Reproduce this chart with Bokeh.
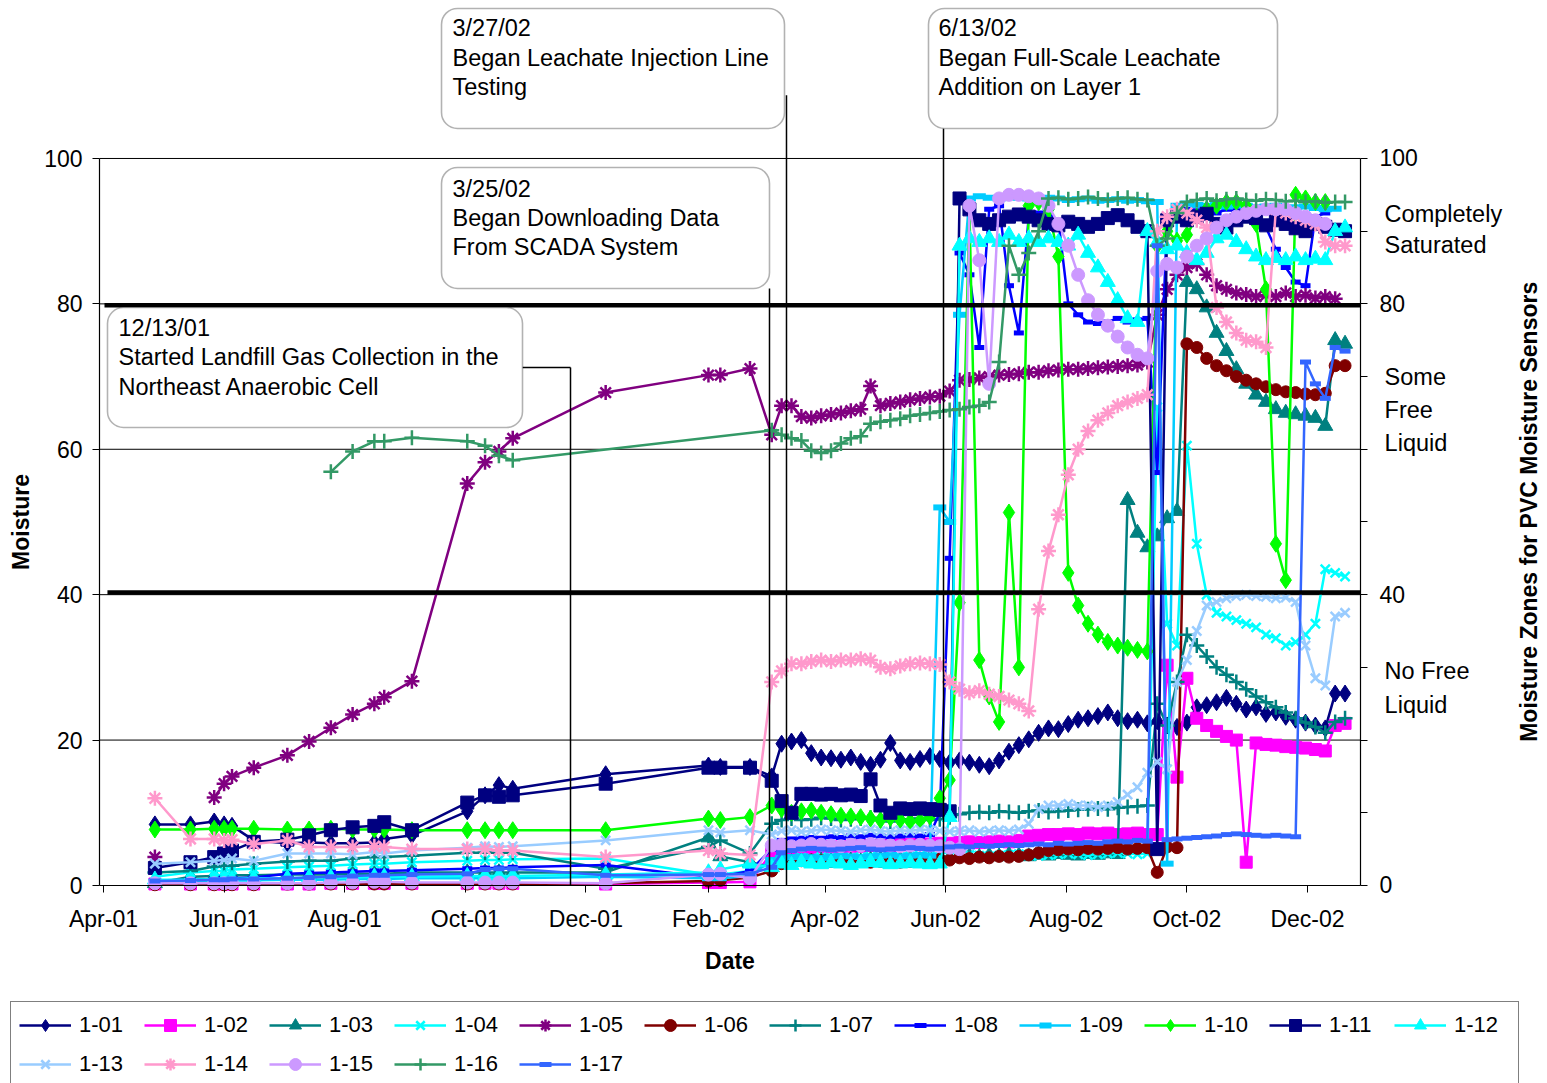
import pandas as pd
from math import pi
from bokeh.plotting import figure
from bokeh.models import (Range1d, FixedTicker, LinearAxis, DatetimeTickFormatter,
                          Legend, LegendItem, Label, BoxAnnotation)
from bokeh.embed import file_html
from bokeh.resources import INLINE

FONT = "Liberation Sans"
NAN = float("nan")
DAY_MS = 86400000.0
ORIGIN = pd.Timestamp("2001-04-01")


def ms(ts):
    return pd.Timestamp(ts).value / 1e6


def day(n):
    return ms(ORIGIN) + n * DAY_MS


# ---------------------------------------------------------------- data
# Manual readings taken before the SCADA download began
spot_dates = ["2001-04-27", "2001-05-15", "2001-05-27", "2001-06-01", "2001-06-05",
              "2001-06-16", "2001-07-03", "2001-07-14", "2001-07-25", "2001-08-05",
              "2001-08-16", "2001-08-21", "2001-09-04", "2001-10-02", "2001-10-11",
              "2001-10-18", "2001-10-25", "2001-12-11", "2002-02-01", "2002-02-07",
              "2002-02-22"]
# SCADA readings: one value every 5 days starting 2002-03-05
scada_start = "2002-03-05"
scada_step_days = 5

s101_spot = [8.4, 8.4, 8.8, 8.4, 8.2, 6.2, 5.8, 5.9, 5.8, 5.8, 5.9, 6.4, 6.9, 10.2, 12.4, 13.8, 13.3, 15.3, 16.5, 16.3, 16.3]
s101_scada = [15.0, 19.5, 19.8, 20.0, 18.2, 17.6, 17.5, 17.3, 17.6, 17.0, 16.6, 17.3, 19.6, 17.2, 17.0, 17.4, 17.8, 17.4, 16.9, 17.2,
              16.9, 16.6, 16.4, 17.2, 18.4, 19.3, 20.1, 21.0, 21.6, 21.5, 22.2, 22.8, 23.0, 23.3, 23.8, 23.0, 22.6, 22.8, 22.3, 22.6,
              22.0, 21.8, 22.4, 24.5, 24.8, 25.2, 25.8, 25.0, 24.2, 24.5, 23.6, 23.8, 23.2, 22.8, 22.4, 22.0, 21.6, 26.4, 26.4]

s102_spot = [0.2, 0.2, 0.2, 0.2, 0.2, 0.2, 0.2, 0.2, 0.3, 0.3, 0.3, 0.3, 0.3, 0.3, 0.3, 0.3, 0.3, 0.2, 0.4, 0.4, 0.5]
s102_scada = [4.5, 5.0, 5.0, 5.2, 5.2, 5.3, 5.3, 5.2, 5.4, 5.4, 5.5, 5.5, 5.4, 5.6, 5.6, 5.7, 5.7, 5.8, 5.8, 5.9,
              6.0, 5.9, 6.0, 6.1, 6.0, 6.2, 6.8, 6.9, 7.0, 7.0, 7.1, 7.0, 7.2, 7.1, 7.2, 7.0, 7.1, 7.2, 7.0, 7.0,
              30.3, 14.9, 28.5, 23.0, 22.0, 21.2, 20.5, 20.0, 3.2, 19.6, 19.4, 19.3, 19.1, 19.0, 18.9, 18.7, 18.5, 22.0, 22.3]

s103_spot = [0.3, 1.2, 1.3, 1.3, 1.4, 1.4, 1.5, 1.5, 1.5, 1.6, 1.6, 1.6, 1.8, 1.8, 1.8, 1.8, 1.8, 1.8, 6.6, 4.0, 3.2]
s103_scada = [2.5, 3.0, 3.2, 3.3, 3.2, 3.4, 3.3, 3.5, 3.4, 3.3, 3.5, 3.6, 3.4, 3.5, 3.6, 3.5, 3.7, 3.6, 3.8, 3.9,
              4.0, 3.9, 4.1, 4.0, 4.2, 4.1, 4.0, 4.2, 4.1, 4.3, 4.2, 4.1, 4.3, 4.2, 4.4, 4.3, 53.0, 48.5, 46.5, 48.0,
              50.5, 51.5, 83.0, 82.0, 79.5, 76.0, 73.5, 71.0, 69.0, 67.5, 66.5, 65.5, 65.0, 64.8, 64.6, 64.3, 63.2, 75.0, 74.5]

s104_spot = [1.2, 1.8, 2.0, 2.0, 2.2, 2.3, 2.5, 2.6, 2.7, 2.9, 3.0, 3.0, 3.2, 3.4, 3.5, 3.5, 3.6, 3.7, 1.5, 1.5, 2.0]
s104_scada = [3.0, 3.4, 3.6, 3.8, 3.7, 3.9, 3.8, 3.7, 3.8, 3.9, 4.0, 3.9, 3.8, 3.9, 4.0, 4.1, 4.0, 3.9, 4.0, 4.1,
              4.2, 4.1, 4.0, 4.1, 4.2, 4.3, 4.2, 4.1, 4.2, 4.3, 4.4, 4.3, 4.2, 4.3, 4.4, 4.5, 4.4, 4.3, 4.4, 65.8,
              36.0, 33.0, 60.5, 47.0, 40.0, 37.5, 37.0, 36.5, 36.0, 35.5, 34.5, 34.0, 33.0, 33.5, 34.5, 36.0, 43.5, 43.0, 42.5]

s105_spot = [3.9, NAN, 12.1, 14.0, 15.0, 16.2, 17.9, 19.8, 21.7, 23.5, 25.0, 25.9, 28.1, 55.3, 58.2, 59.7, 61.5, 67.8, 70.2, 70.2, 71.1]
s105_scada = [62.0, 66.0, 66.0, 64.5, 64.3, 64.6, 64.8, 65.0, 65.3, 65.5, 68.7, 66.0, 66.3, 66.5, 66.8, 67.0, 67.2, 67.3, 68.0, 69.5,
              69.6, 69.8, 70.0, 70.2, 70.3, 70.4, 70.6, 70.6, 70.8, 70.9, 71.0, 71.0, 71.1, 71.2, 71.3, 71.4, 71.5, 71.6, 72.0, 78.5,
              82.0, 84.0, 85.0, 85.5, 84.0, 82.5, 82.0, 81.5, 81.3, 81.0, 81.2, 81.0, 81.5, 81.0, 81.2, 80.8, 81.0, 80.7]

s106_spot = [0.1, 0.1, 0.1, 0.1, 0.1, 0.1, 0.2, 0.2, 0.2, 0.2, 0.2, 0.2, 0.2, 0.2, 0.2, 0.2, 0.2, 0.3, 0.6, 0.7, 1.1]
s106_scada = [2.0, 3.0, 3.2, 3.4, 3.5, 3.4, 3.3, 3.4, 3.5, 3.3, 3.2, 3.3, 3.4, 3.2, 3.3, 3.5, 3.4, 3.6, 3.5, 3.8,
              3.7, 3.9, 3.8, 4.0, 3.9, 4.0, 4.2, 4.5, 4.8, 4.9, 5.0, 4.9, 5.1, 5.0, 5.1, 5.2, 5.0, 5.1, 5.2, 1.8,
              5.3, 5.2, 74.5, 74.0, 72.5, 71.5, 70.8, 70.0, 69.5, 69.0, 68.6, 68.2, 67.9, 67.8, 67.6, 67.5, 67.7, 71.5, 71.5]

s107_spot = [1.8, 2.0, 2.6, 2.7, 2.7, 3.0, 3.3, 3.4, 3.4, 3.7, 3.9, 3.9, 4.1, 4.5, 4.5, 4.5, 4.5, 2.3, 5.3, 6.2, 4.4]
s107_scada = [8.5, 9.0, 9.2, 9.0, 9.1, 9.3, 9.2, 9.0, 9.1, 9.2, 9.3, 9.0, 8.8, 9.0, 9.1, 9.2, 9.0, 9.1, 9.4, 9.8,
              10.0, 10.1, 10.0, 10.2, 10.1, 10.0, 10.2, 10.3, 10.1, 10.2, 10.3, 10.4, 10.5, 10.6, 10.5, 10.7, 10.8, 10.9, 11.0, 25.0,
              22.0, 28.0, 34.5, 33.0, 31.5, 30.0, 29.0, 28.0, 27.0, 26.0, 25.2, 24.5, 23.8, 23.0, 22.4, 21.8, 21.0, 22.5, 23.0]

s108_spot = [0.7, 0.8, 0.9, 1.0, 1.0, 1.1, 1.6, 1.7, 1.8, 1.9, 2.0, 2.0, 2.1, 2.3, 2.4, 2.4, 2.5, 2.8, 1.1, 1.2, 2.0]
s108_scada = [5.0, 6.2, 6.4, 6.5, 6.6, 6.5, 6.7, 6.6, 6.8, 6.7, 6.9, 6.8, 6.7, 6.8, 6.9, 6.8, 7.0, 10.0, 45.0, 87.0,
              84.0, 74.0, 93.0, 93.5, 82.5, 76.0, 92.0, 92.5, 92.0, 91.5, 80.0, 78.5, 77.5, 77.3, 77.5, 78.0, 77.5, 77.8, 78.0, 56.8,
              92.0, 93.0, 93.0, 92.8, 93.0, 92.5, 93.0, 92.8, 93.0, 92.5, 90.5, 87.5, 85.0, 83.0, 82.5, 92.0, 92.5]

s109_spot = [0.5, 0.6, 0.6, 0.6, 0.7, 0.7, 0.8, 0.8, 0.8, 0.9, 0.9, 0.9, 1.0, 1.0, 1.0, 1.0, 1.0, 1.2, 1.0, 1.0, 1.3]
s109_scada = [3.5, 3.8, 3.9, 4.0, 3.9, 3.8, 4.0, 4.1, 4.0, 3.9, 4.0, 4.1, 4.2, 4.0, 4.1, 4.2, 4.1, 52.0, 50.0, 78.5,
              94.5, 94.8, 94.6, 94.5, 94.7, 94.6, 94.5, 94.4, 94.6, 94.5, 94.3, 94.4, 94.5, 94.2, 94.3, 94.4, 94.2, 94.3, 94.1, 94.0,
              3.0, 93.5, 93.8, 93.6, 93.5, 93.7, 93.4, 93.6, 93.5, 93.3, 93.4, 93.5, 93.2, 93.3, 93.4, 93.2, 93.0, 93.1]

s110_spot = [7.7, 7.7, 7.8, 7.8, 7.8, 7.8, 7.7, 7.7, 7.8, 7.7, 7.7, 7.7, 7.6, 7.6, 7.6, 7.6, 7.6, 7.6, 9.2, 9.0, 9.4]
s110_scada = [11.0, 10.5, 10.0, 10.2, 10.3, 10.0, 9.8, 9.6, 9.5, 9.4, 9.2, 9.0, 9.3, 9.0, 8.8, 8.9, 9.5, 12.0, 14.5, 38.9,
              93.0, 31.0, 26.0, 22.5, 51.3, 30.0, 93.5, 94.0, 93.0, 86.5, 43.0, 38.5, 36.0, 34.5, 33.5, 33.0, 32.7, 32.4, 32.2, 88.0,
              90.0, 88.7, 89.5, 92.0, 93.0, 93.5, 94.0, 94.0, 93.5, 91.0, 82.0, 47.0, 42.0, 95.0, 94.5, 94.0, 94.0]

s111_spot = [2.4, 3.2, 3.9, 4.4, 4.8, 6.0, 6.3, 6.9, 7.6, 8.0, 8.2, 8.7, 7.6, 11.4, 12.4, 12.2, 12.4, 14.0, 16.2, 16.2, 16.2]
s111_scada = [14.4, 11.6, 10.0, 12.6, 12.6, 12.5, 12.6, 12.4, 12.5, 12.3, 14.6, 11.0, 10.0, 10.6, 10.5, 10.6, 10.5, 10.4, 10.2, 94.5,
              93.0, 91.5, 91.0, 91.5, 92.0, 92.3, 92.0, 91.5, 91.0, 90.8, 91.3, 91.0, 90.6, 91.0, 91.8, 92.2, 91.5, 90.6, 90.0, 5.0,
              91.5, 92.0, 91.5, 92.0, 92.4, 91.0, 90.5, 91.5, 92.0, 91.8, 90.8, 91.5, 91.0, 90.4, 90.0, 91.0, 90.6, 90.2, 90.0]

s112_spot = [0.8, 0.8, 0.9, 0.9, 0.9, 1.0, 1.0, 1.1, 1.1, 1.1, 1.2, 1.2, 1.2, 1.3, 1.3, 1.3, 1.3, 1.5, 1.8, 2.2, 3.0]
s112_scada = [2.5, 3.0, 2.8, 3.2, 3.0, 2.9, 3.1, 3.0, 2.8, 3.0, 3.2, 3.1, 2.9, 3.0, 3.1, 3.0, 2.9, 3.0, 9.4, 88.0,
              89.0, 88.5, 89.0, 88.5, 89.5, 88.5, 89.0, 88.5, 89.0, 88.5, 88.0, 89.5, 87.0, 85.0, 83.0, 80.5, 78.0, 77.5, 90.0, 88.5,
              87.5, 88.0, 87.0, 86.0, 87.0, 89.0, 89.5, 88.5, 87.5, 86.5, 86.0, 86.3, 86.0, 86.5, 86.0, 86.2, 86.0, 90.0, 90.5]

s113_spot = [3.0, 3.2, 3.4, 3.5, 3.7, 3.4, 4.4, 4.4, 4.4, 4.3, 4.6, 4.4, 4.8, 5.2, 5.4, 5.3, 5.4, 6.2, 7.6, 7.3, 7.6]
s113_scada = [7.0, 7.5, 7.6, 7.4, 7.5, 7.7, 7.6, 7.5, 7.4, 7.6, 7.7, 7.5, 7.4, 7.6, 7.5, 7.7, 7.6, 7.5, 7.4, 7.5,
              7.6, 7.4, 7.5, 7.6, 7.5, 7.7, 8.5, 10.5, 11.0, 11.0, 11.2, 11.0, 11.0, 10.8, 11.0, 11.5, 12.5, 13.5, 15.5, 17.0,
              16.0, 28.0, 31.0, 35.0, 38.5, 39.0, 39.5, 39.8, 40.0, 39.8, 39.7, 39.5, 39.6, 39.0, 33.0, 28.5, 27.5, 37.0, 37.5]

s114_spot = [12.0, 6.4, 6.4, 6.2, 6.3, 5.7, 6.2, 5.3, 5.3, 5.3, 5.4, 5.3, 5.0, 5.0, 5.0, 4.8, 4.8, 3.9, 4.8, 4.4, 4.2]
s114_scada = [28.0, 29.5, 30.5, 30.5, 30.8, 31.0, 30.8, 31.0, 31.0, 31.2, 31.0, 30.0, 29.8, 30.2, 30.5, 30.6, 30.5, 30.4, 28.0, 27.0,
              26.5, 26.8, 26.3, 26.0, 25.5, 25.0, 24.0, 38.0, 46.0, 51.0, 56.5, 60.0, 62.5, 64.0, 65.0, 66.0, 66.5, 67.0, 67.5, 90.0,
              92.0, 93.0, 92.5, 91.5, 90.5, 79.5, 77.5, 76.0, 75.0, 74.8, 74.0, 93.0, 92.5, 92.0, 91.5, 91.0, 88.5, 88.0, 88.0]

s115_spot = [0.3, 0.3, 0.3, 0.3, 0.3, 0.3, 0.3, 0.3, 0.4, 0.4, 0.5, 0.5, 0.4, 0.4, 0.4, 0.4, 0.4, 0.3, 1.5, 1.6, 1.0]
s115_scada = [5.5, 5.6, 5.4, 5.5, 5.7, 5.6, 5.5, 5.4, 5.6, 5.5, 5.7, 5.6, 5.5, 5.4, 5.5, 5.6, 5.5, 5.4, 5.2, 5.0,
              93.5, 86.0, 69.0, 94.5, 95.0, 95.0, 94.8, 94.5, 93.5, 91.0, 88.0, 84.0, 80.5, 78.5, 77.0, 75.5, 74.0, 73.0, 72.5, 84.5,
              85.5, 85.0, 86.5, 88.0, 89.0, 90.5, 91.5, 92.0, 92.5, 92.8, 93.0, 93.0, 93.0, 92.5, 92.0, 91.5, 91.0]

s116_spot = [None, None, None, None, None, None, None, None, 56.9, 59.7, 61.1, 61.1, 61.6, 61.1, 60.5, 59.1, 58.5,
             None, None, None, None]
s116_scada = [62.6, 62.0, 61.5, 61.2, 59.8, 59.5, 59.8, 60.8, 61.5, 61.8, 63.5, 63.8, 64.0, 64.2, 64.6, 64.8, 65.0, 65.2, 65.4, 65.5,
              65.8, 66.0, 66.5, 72.0, 88.0, 84.0, 87.0, 90.0, 94.5, 94.6, 94.4, 94.5, 94.7, 94.5, 94.3, 94.5, 94.6, 94.4, 94.3, 88.0,
              89.0, 92.5, 94.0, 94.3, 94.5, 94.2, 94.4, 94.5, 94.3, 94.2, 94.4, 94.3, 94.1, 94.2, 94.0, 94.1, 93.9, 94.0, 94.0]

s117_spot = [0.6, 0.7, 0.8, 0.8, 0.9, 0.9, 1.0, 1.1, 1.2, 1.3, 1.4, 1.4, 1.5, 1.6, 2.2, 2.3, 2.3, 1.4, 1.5, 1.5, 1.6]
s117_scada = [2.5, 4.5, 4.8, 5.0, 5.1, 5.0, 4.9, 5.0, 5.1, 5.2, 5.0, 4.9, 5.0, 5.1, 5.2, 5.1, 5.0, 5.1, 5.3, 5.4,
              5.3, 5.5, 5.4, 5.5, 5.6, 5.5, 5.6, 5.7, 5.6, 5.8, 5.7, 5.8, 5.9, 5.8, 6.0, 6.1, 6.0, 6.2, 6.1, 88.0,
              6.3, 6.4, 6.5, 6.6, 6.7, 6.8, 7.0, 7.1, 7.0, 6.9, 6.8, 6.9, 6.8, 6.7, 72.0, 69.0, 67.0, 74.0, 73.5]

# name, colour, marker, marker size, marker line width, spot values, SCADA values
sensors = [
    ("1-01", "#000080", "diamond", 17, 1, s101_spot, s101_scada),
    ("1-02", "#FF00FF", "square", 12, 1, s102_spot, s102_scada),
    ("1-03", "#008080", "triangle", 15, 1, s103_spot, s103_scada),
    ("1-04", "#00FFFF", "x", 13, 2.5, s104_spot, s104_scada),
    ("1-05", "#800080", "asterisk", 15, 2.5, s105_spot, s105_scada),
    ("1-06", "#800000", "circle", 12, 1, s106_spot, s106_scada),
    ("1-07", "#008080", "cross", 15, 2.5, s107_spot, s107_scada),
    ("1-08", "#0000FF", "dash", 10, 5, s108_spot, s108_scada),
    ("1-09", "#00CCFF", "dash", 13, 6, s109_spot, s109_scada),
    ("1-10", "#00FF00", "diamond", 17, 1, s110_spot, s110_scada),
    ("1-11", "#000080", "square", 13, 1, s111_spot, s111_scada),
    ("1-12", "#00FFFF", "triangle", 15, 1, s112_spot, s112_scada),
    ("1-13", "#99CCFF", "x", 13, 2.5, s113_spot, s113_scada),
    ("1-14", "#FF99CC", "asterisk", 15, 2.5, s114_spot, s114_scada),
    ("1-15", "#CC99FF", "circle", 13, 1, s115_spot, s115_scada),
    ("1-16", "#339966", "cross", 15, 2.5, s116_spot, s116_scada),
    ("1-17", "#3366FF", "dash", 11, 5, s117_spot, s117_scada),
]

x_tick_dates = ["2001-04-01", "2001-06-01", "2001-08-01", "2001-10-01", "2001-12-01",
                "2002-02-01", "2002-04-01", "2002-06-01", "2002-08-01", "2002-10-01", "2002-12-01"]
y_ticks = [0, 20, 40, 60, 80, 100]
zone_ticks = [0, 10, 20, 30, 40, 50, 60, 70, 80, 90, 100]
zone_numbers = [0, 40, 80, 100]
# zone names written beside the right axis: (value at the line's middle, text)
zone_text = [(92.43, "Completely"), (88.03, "Saturated"), (69.88, "Some"), (65.34, "Free"),
             (60.80, "Liquid"), (29.44, "No Free"), (24.76, "Liquid")]

# plotting window in days from 2001-04-01 and in moisture units
X_LO, X_HI = -2.0, 635.8
Y_LO, Y_HI = 0, 100

# ---------------------------------------------------------------- figure
# the frame covers the whole canvas; the axes are pinned to the plotting window
p = figure(width=1547, height=1083, x_axis_type="datetime", output_backend="svg",
           toolbar_location=None, title=None,
           x_range=Range1d(day(-52.1), day(730.4)), y_range=Range1d(-27.24, 121.73),
           min_border_left=0, min_border_right=0, min_border_top=0, min_border_bottom=0)
p.outline_line_color = None
p.background_fill_color = "white"
p.border_fill_color = "white"
p.xgrid.visible = False
p.ygrid.visible = False

# horizontal grid lines across the plotting window
grid_vals = [t for t in y_ticks if t > Y_LO]
p.segment(x0=[day(X_LO)] * len(grid_vals), x1=[day(X_HI)] * len(grid_vals),
          y0=grid_vals, y1=grid_vals, line_color="black", line_width=1)

scada_origin = ms(scada_start)
legend_items = []
for name, color, marker, size, mlw, spot, scada in sensors:
    xs, ys = [], []
    for d, v in zip(spot_dates, spot):
        if v is not None:
            xs.append(ms(d))
            ys.append(v)
    for i, v in enumerate(scada):
        xs.append(scada_origin + i * scada_step_days * DAY_MS)
        ys.append(v)
    lr = p.line(xs, ys, line_color=color, line_width=2.5)
    sr = p.scatter(xs, ys, marker=marker, size=size, fill_color=color,
                   line_color=color, line_width=mlw)
    legend_items.append(LegendItem(label=name, renderers=[lr, sr]))

# moisture zone boundaries
p.line([day(0.5), day(X_HI)], [79.8, 79.8], line_color="black", line_width=4.5)
p.line([day(2.0), day(X_HI)], [40.3, 40.3], line_color="black", line_width=4.5)

# event leader lines
p.segment(x0=[day(211.94), day(236.22), day(336.87), day(345.47), day(424.89)],
          y0=[71.25, 71.25, 82.12, 108.7, 104.13],
          x1=[day(236.22), day(236.22), day(336.87), day(345.47), day(424.89)],
          y1=[71.25, 0, 0, 0, 0],
          line_color="black", line_width=1.5)

# event call-outs
callouts = [
    (170.97, 344.46, 120.63, 104.13, 176.53, [117.88, 113.76, 109.77],
     ["3/27/02", "Began Leachate Injection Line", "Testing"]),
    (170.97, 336.87, 98.76, 82.12, 176.53, [95.87, 91.75, 87.76],
     ["3/25/02", "Began Downloading Data", "From SCADA System"]),
    (2.02, 211.94, 79.50, 63.0, 7.59, [76.62, 72.63, 68.50],
     ["12/13/01", "Started Landfill Gas Collection in the", "Northeast Anaerobic Cell"]),
    (417.30, 593.83, 120.63, 104.13, 422.36, [117.88, 113.76, 109.77],
     ["6/13/02", "Began Full-Scale Leachate", "Addition on Layer 1"]),
]
for left, right, top, bottom, tx, tys, lines in callouts:
    p.add_layout(BoxAnnotation(left=day(left), right=day(right), top=top, bottom=bottom,
                               fill_color="white", fill_alpha=1.0, line_color="black",
                               line_width=1.6, border_radius=16))
for left, right, top, bottom, tx, tys, lines in callouts:
    for ty, txt in zip(tys, lines):
        p.add_layout(Label(x=day(tx), y=ty, text=txt, text_font=FONT, text_font_size="23.5px",
                           text_color="black", text_baseline="middle", text_align="left"))

# ---------------------------------------------------------------- axes
xa = p.xaxis[0]
xa.fixed_location = 0
xa.bounds = (day(X_LO), day(X_HI))
xa.ticker = FixedTicker(ticks=[ms(t) for t in x_tick_dates])
fmt = "%b-%y"
xa.formatter = DatetimeTickFormatter(microseconds=fmt, milliseconds=fmt, seconds=fmt, minsec=fmt,
                                     minutes=fmt, hourmin=fmt, hours=fmt, days=fmt,
                                     months=fmt, years=fmt)
xa.axis_label = "Date"
xa.major_label_standoff = 14
xa.axis_label_standoff = 12

ya = p.yaxis[0]
ya.fixed_location = day(X_LO)
ya.bounds = (Y_LO, Y_HI)
ya.ticker = FixedTicker(ticks=y_ticks)
ya.axis_label = "Moisture"
ya.major_label_standoff = 10
ya.axis_label_standoff = 7

ra = LinearAxis(ticker=FixedTicker(ticks=zone_ticks), bounds=(Y_LO, Y_HI),
                fixed_location=day(X_HI),
                major_label_overrides={t: " " for t in zone_ticks if t not in zone_numbers})
ra.major_label_standoff = 12
p.add_layout(ra, "right")

for ax in (xa, ya, ra):
    ax.axis_line_color = "black"
    ax.axis_line_width = 1.2
    ax.major_tick_line_color = "black"
    ax.major_tick_in = 0
    ax.major_tick_out = 7
    ax.minor_tick_line_color = None
    ax.major_label_text_font = FONT
    ax.major_label_text_font_size = "23px"
    ax.major_label_text_color = "black"
    ax.axis_label_text_font = FONT
    ax.axis_label_text_font_size = "23px"
    ax.axis_label_text_font_style = "bold"
    ax.axis_label_text_color = "black"

for ty, txt in zone_text:
    p.add_layout(Label(x=day(648.0), y=ty, text=txt, text_font=FONT, text_font_size="23.5px",
                       text_color="black", text_baseline="middle", text_align="left"))
p.add_layout(Label(x=day(720.8), y=51.4, text="Moisture Zones for PVC Moisture Sensors",
                   angle=pi / 2, text_font=FONT, text_font_size="23px", text_font_style="bold",
                   text_color="black", text_align="center", text_baseline="middle"))

# ---------------------------------------------------------------- legend
legend = Legend(items=legend_items, orientation="horizontal", ncols=12,
                location=(10, -5), margin=0, padding=8, spacing=9,
                glyph_width=52, glyph_height=30, label_standoff=8, label_width=56,
                label_height=25, label_text_font=FONT, label_text_font_size="22px",
                label_text_color="black",
                border_line_color="black", border_line_width=1,
                background_fill_color="white", background_fill_alpha=1.0)
p.add_layout(legend)

open("out.html", "w").write(file_html(p, INLINE))
